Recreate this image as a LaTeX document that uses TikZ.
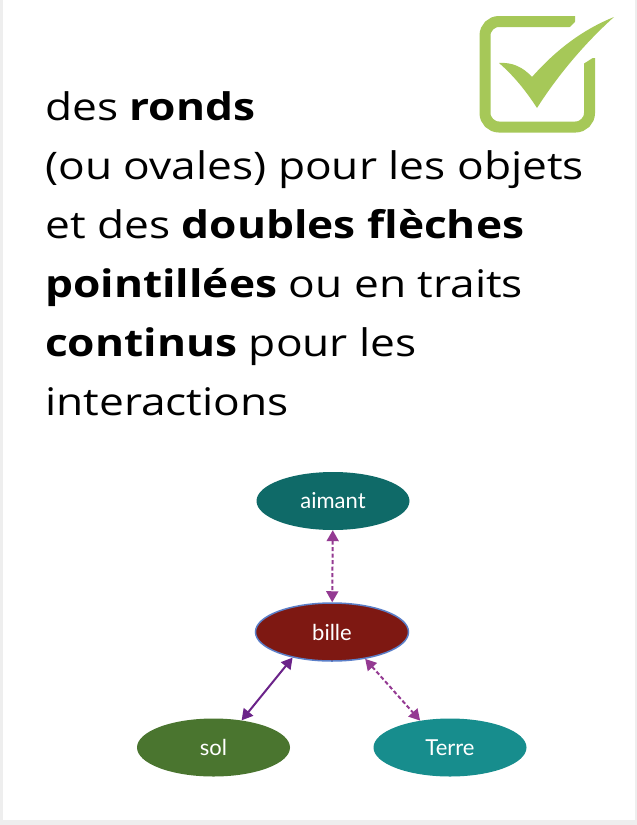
\documentclass[tikz,border=0pt]{standalone}
\usepackage{fontspec}
\setmainfont{Open Sans}[FakeStretch=1.165]
\newfontfamily\labelfont{Lato}
\usetikzlibrary{arrows.meta,shapes.geometric}

\definecolor{frameGray}{HTML}{EEEEEE}
\definecolor{checkGreen}{HTML}{A6C858}
\definecolor{aimantTeal}{HTML}{0F6A68}
\definecolor{billeRed}{HTML}{7E1812}
\definecolor{billeEdge}{HTML}{5B7FC8}
\definecolor{solGreen}{HTML}{4A752F}
\definecolor{terreTeal}{HTML}{178D8D}
\definecolor{linkPurple}{HTML}{943A92}
\definecolor{linkDeep}{HTML}{6B2389}

\tikzset{
  textline/.style={anchor=base west, inner sep=0pt, font=\fontsize{38}{46}\selectfont},
  obj/.style={ellipse, minimum width=153pt, minimum height=58pt, inner sep=0pt,
              text=white, font=\labelfont\fontsize{22}{26}\selectfont},
  link/.style={line width=2pt, {Triangle[length=11pt,width=12pt]}-{Triangle[length=11pt,width=12pt]}},
  dashlink/.style={link, color=linkPurple, dash pattern=on 4pt off 2.5pt},
}

\begin{document}
\begin{tikzpicture}[x=1pt,y=-1pt]
  % page with a light grey border
  \fill[frameGray] (0,0) rectangle (637,825);
  \fill[white] (3,0) rectangle (635,820);
  \useasboundingbox (0,0) rectangle (637,825);

  % check box, open at its top right corner
  \draw[checkGreen, line width=11pt]
    (575,21.5) -- (499,21.5) arc[start angle=90, end angle=180, radius=14pt]
    -- (485,113) arc[start angle=180, end angle=270, radius=14pt]
    -- (575.5,127) arc[start angle=270, end angle=360, radius=14pt]
    -- (589.5,58);
  \fill[white] (568,29) -- (583,14) -- (602,14) -- (602,52) -- (583,64) -- cycle;
  % check mark
  \fill[checkGreen]
    (499,63) .. controls (512,62) and (523,67) .. (532,77)
    .. controls (556,50) and (582,30) .. (614,17)
    .. controls (585,43) and (558,75) .. (537,108)
    .. controls (526,91) and (514,76) .. (499,63) -- cycle;

  % text
  \node[textline] (l1) at (45,120) {des \textbf{ronds}};
  \node[textline] (l2) at (45,179) {(ou ovales) pour les objets};
  \node[textline] (l3) at (45,238) {et des \textbf{doubles flèches}};
  \node[textline] (l4) at (45,297) {\textbf{pointillées} ou en traits};
  \node[textline] (l5) at (45,356) {\textbf{continus} pour les};
  \node[textline] (l6) at (45,415) {interactions};

  % objects
  \node[obj, fill=aimantTeal] (aimant) at (333,501) {aimant};
  \node[obj, fill=billeRed, draw=billeEdge, line width=1.5pt] (bille) at (332,632) {bille};
  \node[obj, fill=solGreen] (sol) at (213.5,747.5) {sol};
  \node[obj, fill=terreTeal] (terre) at (450,747.5) {Terre};

  % interactions
  \draw[dashlink] (aimant) -- (bille);
  \draw[link, color=linkDeep] (bille.-147) -- (sol.44);
  \draw[dashlink] (bille.-39) -- (terre.138);
\end{tikzpicture}
\end{document}
